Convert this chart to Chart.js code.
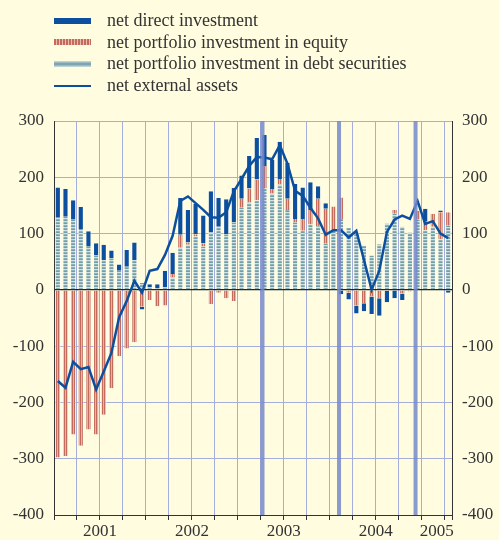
<!DOCTYPE html>
<html>
<head>
<meta charset="utf-8">
<script src="https://cdn.jsdelivr.net/npm/chart.js@4.4.1/dist/chart.umd.min.js"></script>
<style>
  html, body { margin: 0; padding: 0; background: #fffcdf; }
  #wrap { position: relative; width: 499px; height: 540px; overflow: hidden; }
  #chart { position: absolute; left: 0; top: 0; }
  #legend { position: absolute; left: 54px; top: 10px; font: 18px "Liberation Serif", serif; color: #333; }
  .item { display: flex; align-items: center; height: 21.6px; white-space: nowrap; }
  .sw { width: 37px; margin-right: 16px; }
</style>
</head>
<body>
<div id="wrap">
  <canvas id="chart" width="499" height="540"></canvas>
  <div id="legend"></div>
</div>
<script>
const months = [
  "2001-01","2001-02","2001-03","2001-04","2001-05","2001-06","2001-07","2001-08","2001-09","2001-10","2001-11","2001-12",
  "2002-01","2002-02","2002-03","2002-04","2002-05","2002-06","2002-07","2002-08","2002-09","2002-10","2002-11","2002-12",
  "2003-01","2003-02","2003-03","2003-04","2003-05","2003-06","2003-07","2003-08","2003-09","2003-10","2003-11","2003-12",
  "2004-01","2004-02","2004-03","2004-04","2004-05","2004-06","2004-07","2004-08","2004-09","2004-10","2004-11","2004-12",
  "2005-01","2005-02","2005-03","2005-04"
];

// EUR billions, 12-month cumulated flows
const directInv = [54,49,33,39,26,22,27,14,11,30,31,-5, 6,7,30,38,65,58,54,49,73,51,62,61,
  41,58,74,55,52,66,64,62,56,49,22,10, 0,-8,-12,-14,-14,-31,-31,-20,-15,-11,0,0, 23,0,3,-5];
const equityInv = [-298,-295,-257,-277,-248,-257,-222,-175,-118,-104,-93,-30, -18,-29,-28,6,23,4,4,6,-25,-5,-15,-20,
  16,25,37,40,8,10,20,6,21,26,49,62, 42,38,-5,-28,-24,-12,-15,-2,7,-7,-3,15, 15,23,48,24];
const debtInv = [128,130,126,108,78,61,53,56,34,41,53,12, 4,3,4,22,75,80,95,77,102,112,99,120,
  146,155,159,180,171,187,142,120,105,116,113,82, 106,126,110,100,79,61,81,118,135,112,102,125, 106,112,90,114];
const netAssets = [-162,-174,-128,-141,-137,-177,-145,-112,-49,-20,16,-5, 34,37,62,96,158,166,154,142,129,128,138,175,
  197,220,236,235,232,257,224,176,167,146,127,98, 106,106,93,105,53,0,34,103,125,132,126,158, 117,122,100,92];

const yTicks = [-400, -300, -200, -100, 0, 100, 200, 300];
const breakMonths = ["2003-04", "2004-02", "2004-12"];

const seriesNames = [
  "net direct investment",
  "net portfolio investment in equity",
  "net portfolio investment in debt securities",
  "net external assets"
];

const BLUE = "#0b4f9e";
const GRID = "#a5addb";
const INK = "#333";

function makePattern(w, h, draw) {
  const c = document.createElement("canvas");
  c.width = w; c.height = h;
  const g = c.getContext("2d");
  draw(g);
  return g.createPattern(c, "repeat");
}

const debtFill = makePattern(1, 3, g => {
  g.fillStyle = "#8cb0b8"; g.fillRect(0, 0, 1, 1);
  g.fillStyle = "#739ea8"; g.fillRect(0, 1, 1, 1);
  g.fillStyle = "#d2e1e3"; g.fillRect(0, 2, 1, 1);
});
const equityFill = makePattern(2, 1, g => {
  g.fillStyle = "#c36c5e"; g.fillRect(0, 0, 1, 1);
  g.fillStyle = "#e6b2a3"; g.fillRect(1, 0, 1, 1);
});

// legend
const legend = document.getElementById("legend");
const swatches = [
  `height:6px;background:${BLUE}`,
  "height:6px;background:repeating-linear-gradient(90deg,#c36c5e 0 2px,#ebbcae 2px 3px)",
  "height:6px;background:linear-gradient(#cddde0,#6f9aa4 50%,#cddde0)",
  `height:2px;background:${BLUE}`
];
seriesNames.forEach((name, i) => {
  const row = document.createElement("div");
  row.className = "item";
  row.innerHTML = `<div class="sw" style="${swatches[i]}"></div><span>${name}</span>`;
  legend.appendChild(row);
});

// year label sits on the middle month of each year
const yearLabelAt = {};
[...new Set(months.map(m => m.slice(0, 4)))].forEach(y => {
  const idx = months.map((m, i) => m.startsWith(y) ? i : -1).filter(i => i >= 0);
  yearLabelAt[Math.floor((idx[0] + idx[idx.length - 1]) / 2)] = y;
});

const breakLines = {
  id: "breakLines",
  afterDatasetsDraw(chart) {
    const x = chart.scales.x;
    const a = chart.chartArea;
    const ctx = chart.ctx;
    ctx.save();
    ctx.strokeStyle = "rgba(118,136,202,0.85)";
    ctx.lineWidth = 4;
    breakMonths.forEach(m => {
      const px = x.getPixelForValue(months.indexOf(m)) - 2;
      ctx.beginPath();
      ctx.moveTo(px, a.top);
      ctx.lineTo(px, a.bottom);
      ctx.stroke();
    });
    ctx.restore();
  }
};

Chart.defaults.font.family = "'Liberation Serif', 'Times New Roman', serif";
Chart.defaults.font.size = 17;
Chart.defaults.color = INK;

const barCommon = {
  barPercentage: 0.8,
  categoryPercentage: 1,
  borderWidth: { left: 1, right: 1, top: 0, bottom: 0 },
  borderColor: "rgba(255,255,255,0.55)",
  borderSkipped: false,
  stack: "flows",
  order: 1
};

new Chart(document.getElementById("chart"), {
  type: "bar",
  data: {
    labels: months,
    datasets: [
      { ...barCommon, label: seriesNames[2], data: debtInv, backgroundColor: debtFill },
      { ...barCommon, label: seriesNames[1], data: equityInv, backgroundColor: equityFill },
      { ...barCommon, label: seriesNames[0], data: directInv, backgroundColor: BLUE },
      {
        type: "line",
        label: seriesNames[3],
        data: netAssets,
        stack: "net",
        order: 0,
        borderColor: BLUE,
        borderWidth: 2.5,
        pointRadius: 0,
        tension: 0,
        fill: false
      }
    ]
  },
  options: {
    responsive: false,
    animation: false,
    layout: { padding: { top: 121, left: 13, right: 0, bottom: 0 } },
    plugins: { legend: { display: false }, tooltip: { enabled: false } },
    scales: {
      x: {
        stacked: true,
        afterFit: s => { s.height = 25; },
        grid: {
          offset: true,
          color: c => ((c.index ?? 0) % 3 === 0 ? GRID : "rgba(0,0,0,0)"),
          tickColor: c => ((c.index ?? 0) % 3 === 0 ? INK : "rgba(0,0,0,0)"),
          tickLength: 5,
          lineWidth: 1
        },
        border: { color: INK, width: 1 },
        ticks: {
          autoSkip: false,
          maxRotation: 0,
          padding: 1,
          labelOffset: 4,
          callback: (v, i) => yearLabelAt[i] || ""
        }
      },
      y: {
        stacked: true,
        min: -400,
        max: 300,
        afterBuildTicks: s => { s.ticks = yTicks.map(v => ({ value: v })); },
        afterFit: s => { s.width = 41; },
        grid: {
          drawTicks: false,
          color: c => (c.tick && c.tick.value === 0 ? "#222" : GRID),
          lineWidth: c => (c.tick && c.tick.value === 0 ? 1.3 : 1)
        },
        border: { color: INK, width: 1 },
        ticks: { padding: 10 }
      },
      y2: {
        position: "right",
        min: -400,
        max: 300,
        afterBuildTicks: s => { s.ticks = yTicks.map(v => ({ value: v })); },
        afterFit: s => { s.width = 47; },
        grid: { display: false, drawTicks: false },
        border: { color: INK, width: 1 },
        ticks: { padding: 10 }
      }
    }
  },
  plugins: [breakLines]
});
</script>
</body>
</html>
